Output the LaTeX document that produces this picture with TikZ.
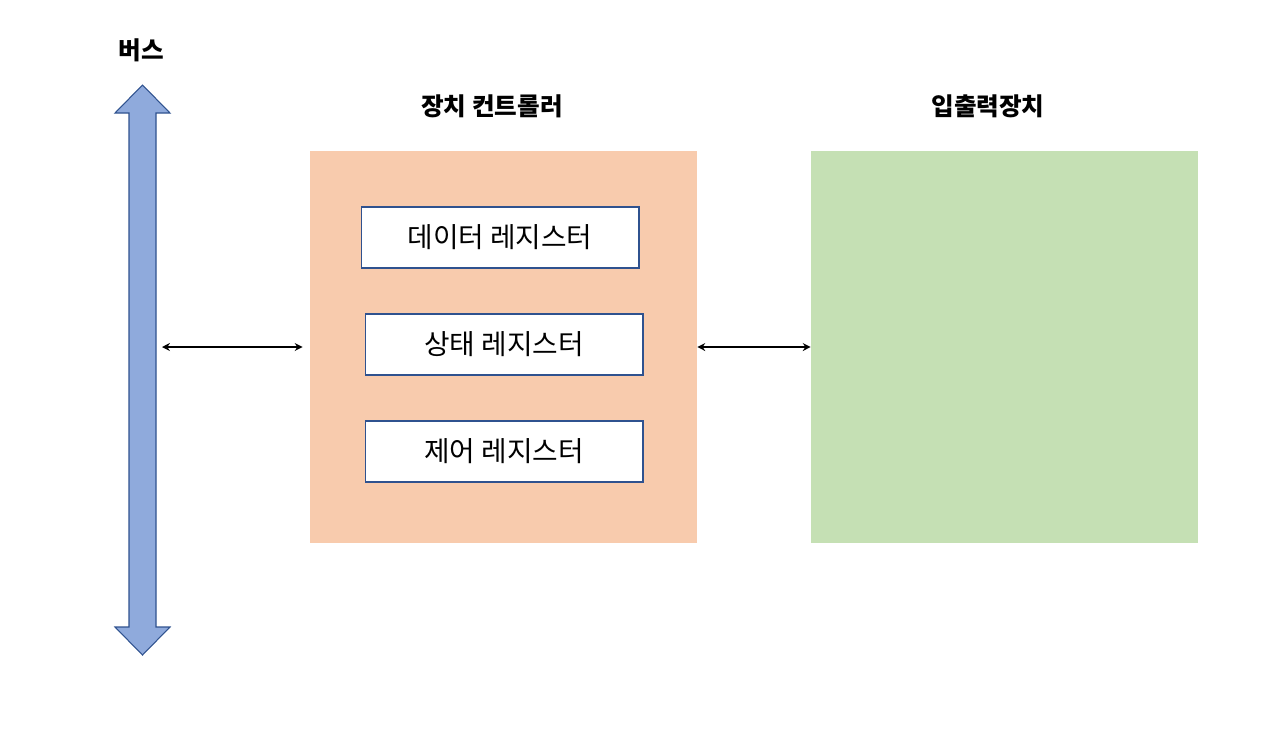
\documentclass[tikz,border=0pt]{standalone}
\usepackage{fontspec}
\setmainfont{Noto Sans CJK KR}
\usetikzlibrary{arrows.meta, positioning}

\definecolor{busblue}{HTML}{8FAADC}
\definecolor{lineblue}{HTML}{2F528F}
\definecolor{ctrlorange}{HTML}{F8CBAD}
\definecolor{iogreen}{HTML}{C5E0B4}

\tikzset{
  block/.style={inner sep=0pt, minimum width=7.74cm, minimum height=7.84cm},
  register/.style={draw=lineblue, line width=0.6pt, fill=white, inner sep=0pt,
    minimum width=5.56cm, minimum height=1.22cm, font=\fontsize{15.8}{18}\selectfont},
  heading/.style={font=\fontsize{14}{16}\selectfont\bfseries},
  link/.style={{Stealth[length=4.5pt,width=4.5pt]}-{Stealth[length=4.5pt,width=4.5pt]}, line width=1.2pt}
}

\begin{document}
\begin{tikzpicture}[x=0.02cm, y=-0.02cm]
        \useasboundingbox (0,0) rectangle (1268,748);

        % --- Bus ---
        \draw[lineblue, fill=busblue, line width=0.6pt]
          (142.5,85) -- (170,113) -- (156,113) -- (156,627) -- (170,627)
          -- (142.5,655) -- (115,627) -- (129,627) -- (129,113) -- (115,113) -- cycle;
        \node[heading] (bus_label) at (141,50) {버스};
        \coordinate (bus_right) at (162,347);

        % --- Device controller ---
        \node[block, fill=ctrlorange] (ctrl) at (503.5,347) {};
        \node[heading] (ctrl_label) at (492,106) {장치 컨트롤러};
        \node[register] (data_reg) at (500,237.5) {데이터 레지스터};
        \node[register] (status_reg) at (504,344.5) {상태 레지스터};
        \node[register] (control_reg) at (504,451.5) {제어 레지스터};

        % --- I/O device ---
        \node[block, fill=iogreen] (io) at (1004.5,347) {};
        \node[heading] (io_label) at (988,106) {입출력장치};

        % --- Links ---
        \draw[link, shorten >=4pt] (bus_right) -- (ctrl.west);
        \draw[link] (ctrl.east) -- (io.west);
    \end{tikzpicture}
\end{document}
